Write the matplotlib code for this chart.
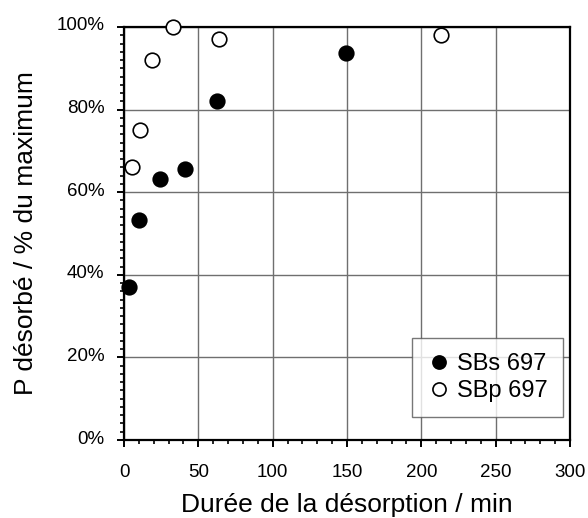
#!/usr/bin/env python3
# Desorption of P vs time, two samples (scatter, % of maximum).
import matplotlib
matplotlib.use("Agg")
import matplotlib.pyplot as plt
import matplotlib.transforms as mtrans
from matplotlib.ticker import MultipleLocator, PercentFormatter

plt.rcParams["font.family"] = ["Liberation Sans", "DejaVu Sans"]

# SBs 697 (filled)
sbs_t = [3.4, 10, 24.5, 41, 62.5, 149]
sbs_p = [37, 53.2, 63.2, 65.7, 82, 93.6]
# SBp 697 (open)
sbp_t = [5.5, 11, 18.6, 33, 63.7, 213.5]
sbp_p = [66.1, 75, 92, 100, 97.2, 98]

labels = ["SBs 697", "SBp 697"]

fig = plt.figure(figsize=(5.88, 5.18), dpi=100)
ax = fig.add_axes([124/588, 1-440/518, (570-124)/588, (440-27)/518])

ax.plot(sbs_t, sbs_p, "o", ms=10.5, mfc="black", mec="black", mew=1.2,
        label=labels[0], clip_on=False, zorder=3)
ax.plot(sbp_t, sbp_p, "o", ms=10.5, mfc="white", mec="black", mew=1.2,
        label=labels[1], clip_on=False, zorder=3)

ax.set_xlim(0, 300)
ax.set_ylim(0, 100)
ax.xaxis.set_major_locator(MultipleLocator(50))
ax.xaxis.set_minor_locator(MultipleLocator(10))
ax.yaxis.set_major_locator(MultipleLocator(20))
ax.yaxis.set_minor_locator(MultipleLocator(2))
ax.yaxis.set_major_formatter(PercentFormatter(decimals=0))

ax.grid(True, which="major", color="#6f6f6f", lw=1.0)
ax.set_axisbelow(True)
for s in ax.spines.values():
    s.set_linewidth(1.6)
    s.set_color("black")

ax.tick_params(which="major", direction="out", length=5, width=1.4,
               labelsize=13.5, pad=9)
ax.tick_params(axis="x", which="major", pad=12)
ax.tick_params(which="minor", direction="out", length=3, width=1.2)

# y labels sit a little above their grid line in the original
shift = mtrans.ScaledTranslation(0, 3/100, fig.dpi_scale_trans)
for lab in ax.get_yticklabels():
    lab.set_transform(lab.get_transform() + shift)

ax.set_xlabel("Durée de la désorption / min", fontsize=19, labelpad=9)
ax.set_ylabel("P désorbé / % du maximum", fontsize=19, labelpad=13)

leg = ax.legend(loc="lower right", bbox_to_anchor=(1.0, 0.038), fontsize=17,
                frameon=True, fancybox=False, handlelength=1.0,
                handletextpad=0.25, borderpad=0.65, labelspacing=0.2,
                borderaxespad=0.3, markerscale=0.9)
leg.get_frame().set_edgecolor("#555555")
leg.get_frame().set_linewidth(1.0)

fig.savefig("out.png", dpi=100)
